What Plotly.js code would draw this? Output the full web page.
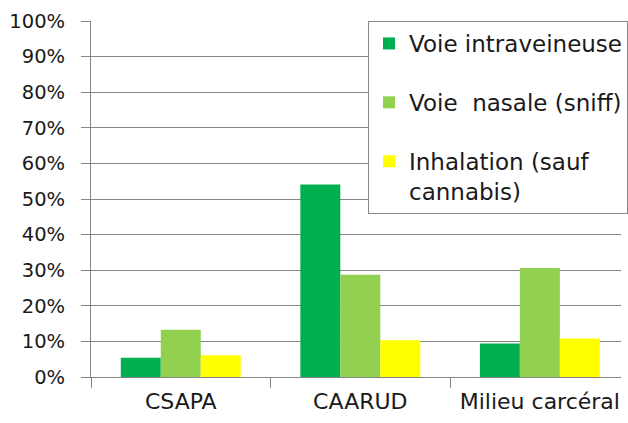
<!DOCTYPE html>
<html>
<head>
<meta charset="utf-8">
<script src="https://cdn.plot.ly/plotly-3.0.1.min.js"></script>
<style>html,body{margin:0;padding:0;background:#fff;}#chart{width:628px;height:423px;}</style>
</head>
<body>
<div id="chart"></div>
<script>
const categories = ["CSAPA", "CAARUD", "Milieu carcéral"];
const seriesNames = ["Voie intraveineuse", "Voie  nasale (sniff)", "Inhalation (sauf<br>cannabis)"];
const intraveineuse = [0.054, 0.541, 0.094];
const nasale = [0.133, 0.287, 0.306];
const inhalation = [0.061, 0.103, 0.108];
const colors = ["#00B050", "#92D050", "#FFFF00"];

const allSeries = [intraveineuse, nasale, inhalation];
const font = "DejaVu Sans, sans-serif";
const traces = allSeries.map((vals, i) => ({
  type: "bar",
  x: categories,
  y: vals,
  name: seriesNames[i],
  legendgroup: "g" + i,
  marker: {color: colors[i], line: {width: 0}},
  hoverinfo: "skip"
}));

const layout = {
  width: 628, height: 423,
  margin: {l: 91, r: 0, t: 21, b: 46},
  paper_bgcolor: "#fff", plot_bgcolor: "#fff",
  barmode: "group",
  bargap: 0.332, bargroupgap: 0,
  font: {family: font, color: "#1a1a1a"},
  xaxis: {
    type: "category",
    range: [-0.5, 2.452],
    showline: true, linecolor: "#868686", linewidth: 1,
    ticks: "outside", tickson: "boundaries", ticklen: 10, tickcolor: "#868686",
    showgrid: false,
    tickfont: {size: 22, family: font, color: "#1a1a1a"},
    ticklabelstandoff: 5,
    fixedrange: true
  },
  yaxis: {
    range: [0, 1],
    dtick: 0.1, tick0: 0,
    tickformat: ".0%",
    showline: true, linecolor: "#868686", linewidth: 1,
    ticks: "outside", ticklen: 9, tickcolor: "#868686",
    showgrid: true, gridcolor: "#868686", gridwidth: 1,
    zeroline: false,
    tickfont: {size: 19.5, family: font, color: "#1a1a1a"},
    ticklabelstandoff: 12,
    fixedrange: true
  },
  showlegend: true,
  legend: {
    x: 0.523, xanchor: "left",
    y: 1, yanchor: "top",
    bgcolor: "#fff",
    bordercolor: "#888", borderwidth: 1,
    font: {size: 23, family: font, color: "#1a1a1a"},
    valign: "top",
    tracegroupgap: 26,
    itemwidth: 30
  }
};

Plotly.newPlot("chart", traces, layout, {staticPlot: true, displayModeBar: false});
</script>
</body>
</html>
